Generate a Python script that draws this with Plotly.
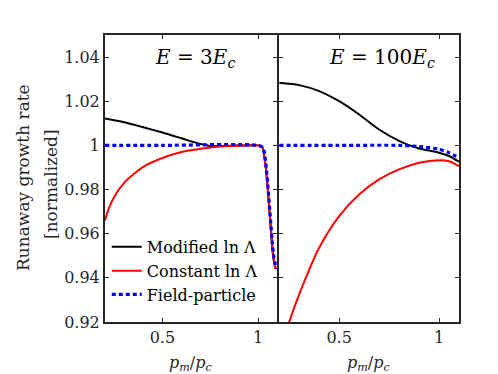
import plotly.graph_objects as go

# Left panel: E = 3 Ec
x3_mod = [0.2, 0.3, 0.4, 0.5, 0.6, 0.7, 0.75, 0.8, 0.9, 1.0, 1.02, 1.04, 1.06, 1.08, 1.092]
y3_mod = [1.0122, 1.0105, 1.0082, 1.0058, 1.0032, 1.0006, 0.9997, 0.9997, 0.99995, 1.0, 0.9995, 0.990, 0.970, 0.949, 0.944]
x3_con = [0.2, 0.22, 0.25, 0.3, 0.35, 0.4, 0.5, 0.6, 0.7, 0.8, 0.9, 1.0, 1.02, 1.04, 1.06, 1.08, 1.092]
y3_con = [0.966, 0.9715, 0.977, 0.983, 0.987, 0.9903, 0.9943, 0.997, 0.9985, 0.9995, 1.0, 1.0, 0.9995, 0.990, 0.970, 0.949, 0.944]
x3_fp = [0.2, 0.5, 1.0, 1.025, 1.04, 1.06, 1.08, 1.095]
y3_fp = [1.0, 1.0, 1.0, 0.999, 0.992, 0.972, 0.951, 0.944]

# Right panel: E = 100 Ec
x100_mod = [0.2, 0.3, 0.4, 0.5, 0.6, 0.7, 0.8, 0.85, 0.9, 1.0, 1.05, 1.1]
y100_mod = [1.0284, 1.0273, 1.0246, 1.0200, 1.0140, 1.0072, 1.0020, 1.0001, 0.9986, 0.9967, 0.9952, 0.9926]
x100_con = [0.2, 0.25, 0.3, 0.4, 0.5, 0.6, 0.7, 0.8, 0.9, 1.0, 1.05, 1.1]
y100_con = [0.905, 0.920, 0.9325, 0.9536, 0.968, 0.9778, 0.9846, 0.9891, 0.9921, 0.9933, 0.9928, 0.9906]
x100_fp = [0.2, 0.5, 0.8, 0.9, 1.0, 1.05, 1.1]
y100_fp = [1.0, 1.0, 1.0, 0.9995, 0.9982, 0.9967, 0.9944]

ytick_vals = [0.92, 0.94, 0.96, 0.98, 1.0, 1.02, 1.04]
ytick_text = ["0.92", "0.94", "0.96", "0.98", "1", "1.02", "1.04"]
xtick_vals = [0.5, 1.0]
xtick_text = ["0.5", "1"]

FONT = "DejaVu Serif, serif"
AX = "#262626"
BLACK = "#000000"
RED = "#ff0000"
BLUE = "#0000ff"

fig = go.Figure()

def add(x, y, color, name, xa, ya, dash=None, width=2, show=False):
    fig.add_trace(go.Scatter(
        x=x, y=y, mode="lines", name=name, showlegend=show,
        line=dict(color=color, width=width, dash=dash, shape="spline", smoothing=0.8),
        xaxis=xa, yaxis=ya, cliponaxis=True))

add(x3_mod, y3_mod, BLACK, "Modified ln Λ", "x", "y", show=True)
add(x3_con, y3_con, RED, "Constant ln Λ", "x", "y", show=True)
add(x3_fp, y3_fp, BLUE, "Field-particle", "x", "y", dash="4px,3px", width=3.2, show=True)
add(x100_mod, y100_mod, BLACK, "Modified ln Λ", "x2", "y2")
add(x100_con, y100_con, RED, "Constant ln Λ", "x2", "y2")
add(x100_fp, y100_fp, BLUE, "Field-particle", "x2", "y2", dash="4px,3px", width=3.2)

axis_common = dict(showline=True, linecolor=AX, linewidth=2, mirror="ticks",
                   ticks="inside", ticklen=4, tickcolor=AX, tickwidth=1,
                   showgrid=False, zeroline=False,
                   tickfont=dict(family=FONT, size=16, color=AX))

L, R, T, B = 97, 47, 27, 60
plot_w = 498 - L - R
plot_h = 374 - T - B
split = 0.4865
gap = 2.0 / plot_w

fig.update_layout(
    width=498, height=374,
    margin=dict(l=L, r=R, t=T, b=B),
    paper_bgcolor="white", plot_bgcolor="white",
    font=dict(family=FONT, color=AX),
    xaxis=dict(domain=[0, split], range=[0.2, 1.1], tickvals=xtick_vals, ticktext=xtick_text, anchor="y", **axis_common),
    yaxis=dict(domain=[0, 1], range=[0.92, 1.05], tickvals=ytick_vals, ticktext=ytick_text, anchor="x", **axis_common),
    xaxis2=dict(domain=[split + gap, 1], range=[0.2, 1.1], tickvals=xtick_vals, ticktext=xtick_text, anchor="y2", **axis_common),
    yaxis2=dict(domain=[0, 1], range=[0.92, 1.05], tickvals=ytick_vals, ticktext=ytick_text, anchor="x2", **axis_common),
    legend=dict(x=0.005, y=0.035, xanchor="left", yanchor="bottom",
                bgcolor="rgba(0,0,0,0)", font=dict(family=FONT, size=16, color="#000000"),
                tracegroupgap=0, itemwidth=30),
    showlegend=True,
)
fig.update_layout(yaxis2_showticklabels=False)

ann = [
    dict(text="<i>E</i> = 3<i>E<sub>c</sub></i>", x=0.45, y=1.0395, xref="x", yref="y", showarrow=False,
         xanchor="left", yanchor="middle", font=dict(family=FONT, size=20, color="#000000")),
    dict(text="<i>E</i> = 100<i>E<sub>c</sub></i>", x=0.44, y=1.0395, xref="x2", yref="y2", showarrow=False,
         xanchor="left", yanchor="middle", font=dict(family=FONT, size=20, color="#000000")),
    dict(text="<i>p<sub>m</sub></i>/<i>p<sub>c</sub></i>", x=0.65, y=(314 - 355) / plot_h, xref="x", yref="paper",
         showarrow=False, yanchor="middle", font=dict(family=FONT, size=16, color=AX)),
    dict(text="<i>p<sub>m</sub></i>/<i>p<sub>c</sub></i>", x=0.65, y=(314 - 355) / plot_h, xref="x2", yref="paper",
         showarrow=False, yanchor="middle", font=dict(family=FONT, size=16, color=AX)),
    dict(text="Runaway growth rate", x=(15 - L) / plot_w, y=(314 - 170) / plot_h, xref="paper", yref="paper",
         showarrow=False, xanchor="center", yanchor="middle", textangle=-90,
         font=dict(family=FONT, size=17, color=AX)),
    dict(text="[normalized]", x=(43 - L) / plot_w, y=(314 - 176) / plot_h, xref="paper", yref="paper",
         showarrow=False, xanchor="center", yanchor="middle", textangle=-90,
         font=dict(family=FONT, size=17, color=AX)),
]
fig.update_layout(annotations=ann)

fig.write_html("out.html")
